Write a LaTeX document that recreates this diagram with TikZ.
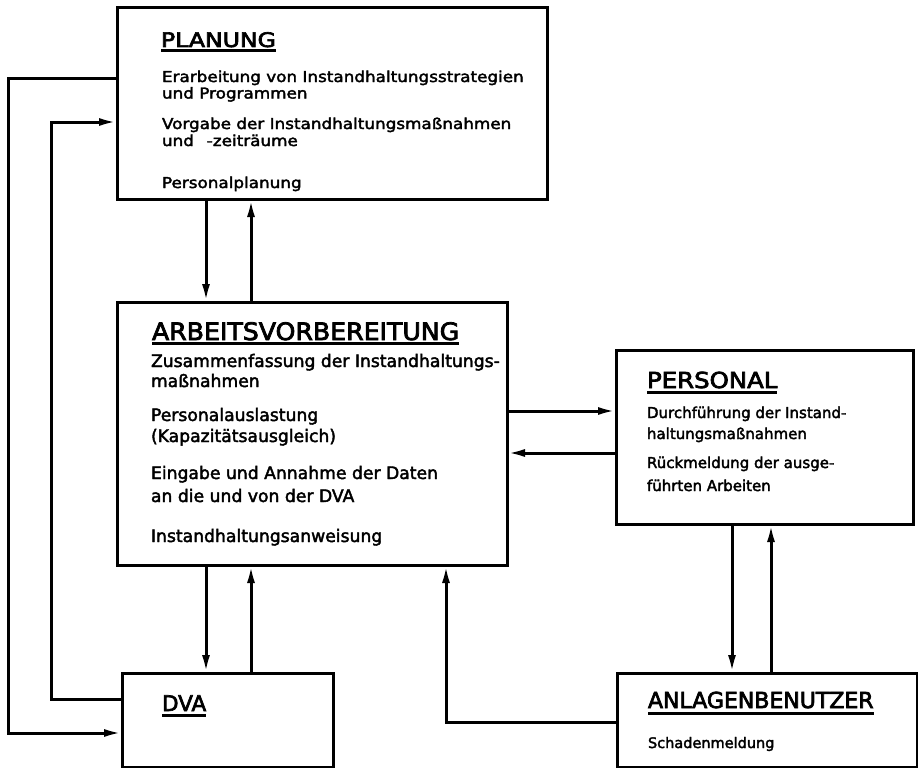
\documentclass[tikz,border=0pt]{standalone}
\usepackage{fontspec}
\usepackage{graphicx}
\setmainfont{DejaVu Sans}
\newfontfamily\fB[FakeBold=2.4]{DejaVu Sans}
\newfontfamily\fBP[FakeBold=2.4,FakeStretch=1.12]{DejaVu Sans}
\newfontfamily\fH[FakeBold=3.2]{DejaVu Sans}
\usetikzlibrary{arrows.meta}
\begin{document}
\begin{tikzpicture}[x=1pt,y=-1pt,
  box/.style={draw, line width=3pt, inner sep=0pt, outer sep=0pt, anchor=north west},
  conn/.style={line width=3pt},
  arr/.style={conn, -{Latex[length=18pt,width=8pt]}},
  txt/.style={anchor=base west, inner sep=0pt, outer sep=0pt},
  tP/.style={txt, font=\fBP\fontsize{15}{18}\selectfont},
  tA/.style={txt, font=\fB\fontsize{17.2}{20}\selectfont},
  tE/.style={txt, font=\fB\fontsize{15}{18}\selectfont},
  tN/.style={txt, font=\fB\fontsize{14.5}{17}\selectfont},
  uline/.style={line width=3pt}]
\useasboundingbox (0,0) rectangle (918,768);
\fill[white] (0,0) rectangle (918,768);

% boxes
\node[box, minimum width=430pt, minimum height=191pt] (P) at (117,8) {};
\node[box, minimum width=390pt, minimum height=263pt] (A) at (117,302) {};
\node[box, minimum width=297pt, minimum height=174pt] (E) at (616,350) {};
\node[box, minimum width=211pt, minimum height=94pt] (D) at (122,673) {};
\node[box, minimum width=300pt, minimum height=94pt] (N) at (617,673) {};

% PLANUNG
\node[txt, font=\fH\fontsize{20}{24}\selectfont] (hP) at (161,47) {\scalebox{1.18}[1]{PLANUNG}};
\draw[uline] ([yshift=-4pt]hP.base west) -- ([yshift=-4pt]hP.base east);
\node[tP] (p1) at (162,82) {Erarbeitung von Instandhaltungsstrategien};
\node[tP] (p2) at (162,98.5) {und Programmen};
\node[tP] (p3) at (162,129) {Vorgabe der Instandhaltungsmaßnahmen};
\node[tP] (p4) at (162,146) {und\hspace{0.5em} -zeiträume};
\node[tP] (p5) at (162,188) {Personalplanung};

% ARBEITSVORBEREITUNG
\node[txt, font=\fH\fontsize{24}{28}\selectfont] (hA) at (152,340) {\scalebox{1.05}[1]{ARBEITSVORBEREITUNG}};
\draw[uline] ([yshift=-3.5pt]hA.base west) -- ([yshift=-3.5pt]hA.base east);
\node[tA] (a1) at (151,367) {Zusammenfassung der Instandhaltungs-};
\node[tA] (a2) at (151,387) {maßnahmen};
\node[tA] (a3) at (151,421) {Personalauslastung};
\node[tA] (a4) at (151,442) {(Kapazitätsausgleich)};
\node[tA] (a5) at (151,479) {Eingabe und Annahme der Daten};
\node[tA] (a6) at (151,502) {an die und von der DVA};
\node[tA] (a7) at (151,542) {Instandhaltungsanweisung};

% PERSONAL
\node[txt, font=\fH\fontsize{22}{26}\selectfont] (hE) at (647,388) {\scalebox{1.11}[1]{PERSONAL}};
\draw[uline] ([yshift=-4.5pt]hE.base west) -- ([yshift=-4.5pt]hE.base east);
\node[tE] (e1) at (647,418) {Durchführung der Instand-};
\node[tE] (e2) at (647,439) {haltungsmaßnahmen};
\node[tE] (e3) at (647,468) {Rückmeldung der ausge-};
\node[tE] (e4) at (647,491) {führten Arbeiten};

% DVA
\node[txt, font=\fH\fontsize{21.5}{25}\selectfont] (hD) at (162,711) {DVA};
\draw[uline] ([yshift=-4pt]hD.base west) -- ([yshift=-4pt]hD.base east);

% ANLAGENBENUTZER
\node[txt, font=\fH\fontsize{22}{26}\selectfont] (hN) at (648,708) {ANLAGENBENUTZER};
\draw[uline] ([yshift=-5pt]hN.base west) -- ([yshift=-5pt]hN.base east);
\node[tN] (n1) at (648,748) {Schadenmeldung};

% helper coordinates
\coordinate (x1) at (206,0);
\coordinate (x2) at (251,0);
\coordinate (x3) at (446,0);
\coordinate (x4) at (732,0);
\coordinate (x5) at (771,0);
\coordinate (x6) at (8,0);
\coordinate (x7) at (51,0);
\coordinate (y1) at (0,411);
\coordinate (y2) at (0,453);
\coordinate (y3) at (0,78);
\coordinate (y4) at (0,122);
\coordinate (y5) at (0,699);
\coordinate (y6) at (0,733);
\coordinate (y7) at (0,722);

% connectors
\draw[arr] (P.south -| x1) -- (A.north -| x1);
\draw[arr] (A.north -| x2) -- (P.south -| x2);
\draw[arr] (A.south -| x1) -- (D.north -| x1);
\draw[arr] (D.north -| x2) -- (A.south -| x2);
\draw[arr] (A.east |- y1) -- (E.west |- y1);
\draw[arr] (E.west |- y2) -- (A.east |- y2);
\draw[arr] (E.south -| x4) -- (N.north -| x4);
\draw[arr] (N.north -| x5) -- (E.south -| x5);
\draw[arr] (N.west |- y7) -| (A.south -| x3);
\draw[arr] (P.west |- y3) -- (x6 |- y3) -- (x6 |- y6) -- (D.west |- y6);
\draw[arr] (D.west |- y5) -- (x7 |- y5) -- (x7 |- y4) -- (P.west |- y4);
\end{tikzpicture}
\end{document}
